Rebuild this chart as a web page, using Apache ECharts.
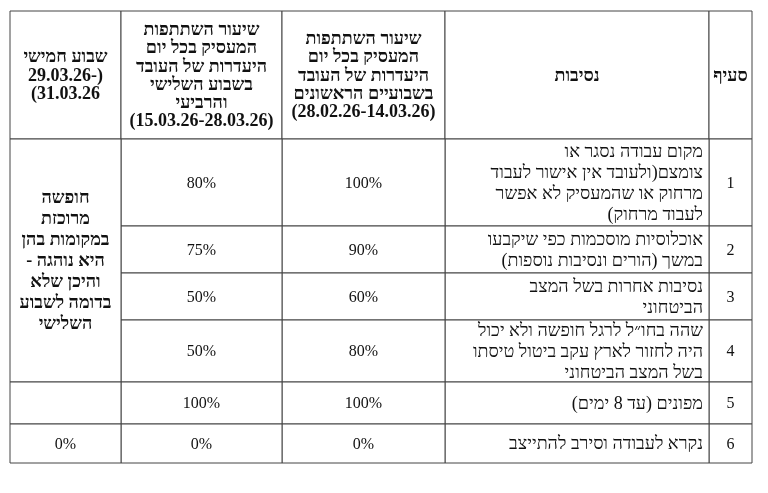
<!DOCTYPE html>
<html dir="rtl">
<head>
<meta charset="utf-8">
<script src="https://cdn.jsdelivr.net/npm/echarts@6/dist/echarts.min.js"></script>
<style>html,body{margin:0;background:#fff}#c{width:768px;height:493px}</style>
</head>
<body>
<div id="c"></div>
<script>
// Table layout: column edges (left to right) and row edges (top to bottom), in page pixels
const COLS = [10, 121, 282, 445, 709, 752]
const ROWS = [11, 139, 226, 273, 320, 382, 424, 463]

const HEADERS = [
  ['שבוע חמישי', '(-29.03.26', '31.03.26)'],
  ['שיעור השתתפות', 'המעסיק בכל יום', 'היעדרות של העובד', 'בשבוע השלישי', 'והרביעי', '(15.03.26-28.03.26)'],
  ['שיעור השתתפות', 'המעסיק בכל יום', 'היעדרות של העובד', 'בשבועיים הראשונים', '(28.02.26-14.03.26)'],
  ['נסיבות'],
  ['סעיף']
]
const SECTIONS = ['1', '2', '3', '4', '5', '6']
const REASONS = [
  ['מקום עבודה נסגר או', 'צומצם(ולעובד אין אישור לעבוד', 'מרחוק או שהמעסיק לא אפשר', 'לעבוד מרחוק)'],
  ['אוכלוסיות מוסכמות כפי שיקבעו', 'במשך (הורים ונסיבות נוספות)'],
  ['נסיבות אחרות בשל המצב', 'הביטחוני'],
  ['שהה בחו״ל לרגל חופשה ולא יכול', 'היה לחזור לארץ עקב ביטול טיסתו', 'בשל המצב הביטחוני'],
  ['מפונים (עד 8 ימים)'],
  ['נקרא לעבודה וסירב להתייצב']
]
const FIRST_TWO_WEEKS = [100, 90, 60, 80, 100, 0]
const WEEKS_3_4 = [80, 75, 50, 50, 100, 0]
const WEEK_5_MERGED = ['חופשה', 'מרוכזת', 'במקומות בהן', 'היא נוהגה -', 'והיכן שלא', 'בדומה לשבוע', 'השלישי']
const WEEK_5_ROW6 = '0%'

// cells: [c0, c1, r0, r1, text, align, kind]  kind: 0 body hebrew, 1 bold, 2 numeric
const cells = []
HEADERS.forEach((h, i) => cells.push([i, i + 1, 0, 1, h.join('\n'), 'center', 1]))
for (let r = 0; r < 6; r++) {
  cells.push([4, 5, r + 1, r + 2, SECTIONS[r], 'center', 2])
  cells.push([3, 4, r + 1, r + 2, REASONS[r].join('\n'), 'right', 0])
  cells.push([2, 3, r + 1, r + 2, FIRST_TWO_WEEKS[r] + '%', 'center', 2])
  cells.push([1, 2, r + 1, r + 2, WEEKS_3_4[r] + '%', 'center', 2])
}
cells.push([0, 1, 1, 5, WEEK_5_MERGED.join('\n'), 'center', 1])
cells.push([0, 1, 5, 6, '', 'center', 2])
cells.push([0, 1, 6, 7, WEEK_5_ROW6, 'center', 2])

const FONTS = ['18px "Liberation Serif", serif', 'bold 18px "Liberation Serif", serif', '16px "Liberation Serif", serif']

const chart = echarts.init(document.getElementById('c'))
chart.setOption({
  animation: false,
  grid: { left: 0, right: 0, top: 0, bottom: 0 },
  xAxis: { type: 'value', min: 0, max: 768, show: false },
  yAxis: { type: 'value', min: 0, max: 493, inverse: true, show: false },
  series: [{
    type: 'custom',
    data: cells,
    renderItem: (params, api) => {
      const d = cells[params.dataIndex]
      const p0 = api.coord([COLS[d[0]], ROWS[d[2]]])
      const p1 = api.coord([COLS[d[1]], ROWS[d[3]]])
      const w = p1[0] - p0[0], h = p1[1] - p0[1]
      const right = d[5] === 'right'
      return {
        type: 'group',
        children: [
          { type: 'rect', shape: { x: p0[0], y: p0[1], width: w, height: h },
            style: { fill: '#fff', stroke: '#444', lineWidth: 1 } },
          { type: 'text',
            style: {
              x: right ? p1[0] - 6 : p0[0] + w / 2, y: p0[1] + h / 2 + 1,
              text: d[4], align: right ? 'right' : 'center', verticalAlign: 'middle',
              font: FONTS[d[6]],
              lineHeight: d[2] === 0 ? 18.3 : 21, fill: '#111'
            } }
        ]
      }
    }
  }]
})
</script>
</body>
</html>
